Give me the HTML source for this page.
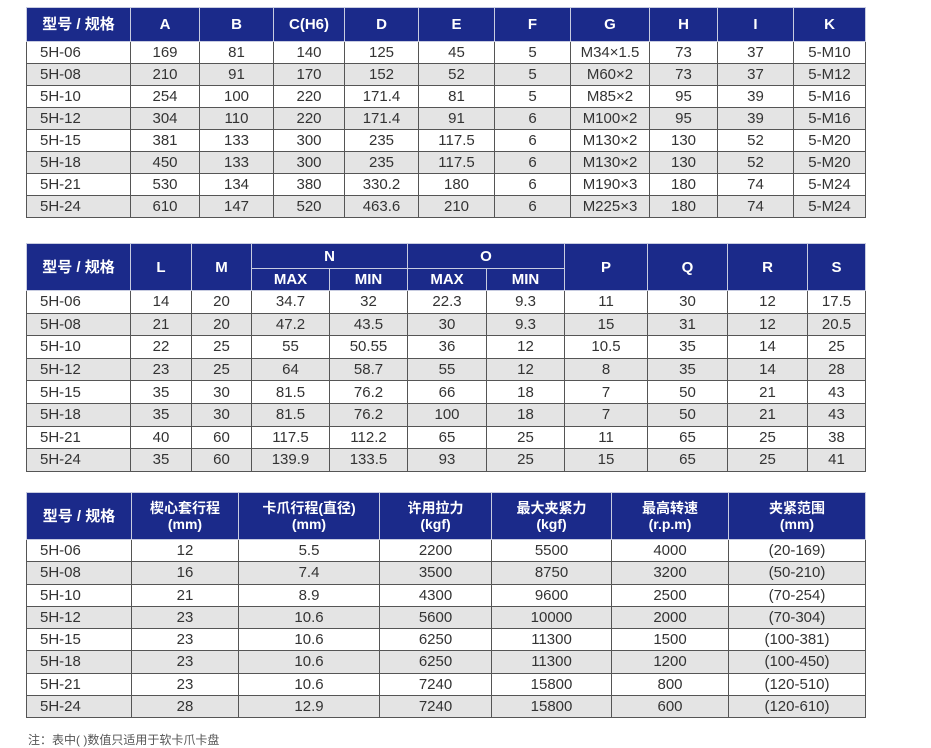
<!DOCTYPE html>
<html><head><meta charset="utf-8"><style>
body{margin:0;background:#fff;width:931px;height:747px;position:relative;overflow:hidden;font-family:"Liberation Sans","Noto Sans CJK SC",sans-serif;}
table{position:absolute;left:26px;border-collapse:collapse;table-layout:fixed;font-size:15px;color:#333;}
td,th{padding:0;text-align:center;white-space:nowrap;overflow:hidden;line-height:1;}
th{background:#1b2a8a;color:#fff;font-weight:600;font-size:15px;border:1px solid #c8cce0;}
td{border:1px solid #555;}
tr.g td{background:#e4e4e4;}
td.f{text-align:left;padding-left:13px;}
th.two{line-height:1.15;font-size:14px;}
.note{position:absolute;left:28px;top:731px;font-size:12px;color:#555;}
</style></head><body>

<table style="top:7px;width:839px">
<colgroup><col style="width:104px"><col style="width:69px"><col style="width:74px"><col style="width:71px"><col style="width:74px"><col style="width:76px"><col style="width:76px"><col style="width:79px"><col style="width:68px"><col style="width:76px"><col style="width:72px"></colgroup>
<tr style="height:34px"><th>型号 / 规格</th><th>A</th><th>B</th><th>C(H6)</th><th>D</th><th>E</th><th>F</th><th>G</th><th>H</th><th>I</th><th>K</th></tr>
<tr style="height:22px"><td class="f">5H-06</td><td>169</td><td>81</td><td>140</td><td>125</td><td>45</td><td>5</td><td>M34×1.5</td><td>73</td><td>37</td><td>5-M10</td></tr>
<tr class="g" style="height:22px"><td class="f">5H-08</td><td>210</td><td>91</td><td>170</td><td>152</td><td>52</td><td>5</td><td>M60×2</td><td>73</td><td>37</td><td>5-M12</td></tr>
<tr style="height:22px"><td class="f">5H-10</td><td>254</td><td>100</td><td>220</td><td>171.4</td><td>81</td><td>5</td><td>M85×2</td><td>95</td><td>39</td><td>5-M16</td></tr>
<tr class="g" style="height:22px"><td class="f">5H-12</td><td>304</td><td>110</td><td>220</td><td>171.4</td><td>91</td><td>6</td><td>M100×2</td><td>95</td><td>39</td><td>5-M16</td></tr>
<tr style="height:22px"><td class="f">5H-15</td><td>381</td><td>133</td><td>300</td><td>235</td><td>117.5</td><td>6</td><td>M130×2</td><td>130</td><td>52</td><td>5-M20</td></tr>
<tr class="g" style="height:22px"><td class="f">5H-18</td><td>450</td><td>133</td><td>300</td><td>235</td><td>117.5</td><td>6</td><td>M130×2</td><td>130</td><td>52</td><td>5-M20</td></tr>
<tr style="height:22px"><td class="f">5H-21</td><td>530</td><td>134</td><td>380</td><td>330.2</td><td>180</td><td>6</td><td>M190×3</td><td>180</td><td>74</td><td>5-M24</td></tr>
<tr class="g" style="height:22px"><td class="f">5H-24</td><td>610</td><td>147</td><td>520</td><td>463.6</td><td>210</td><td>6</td><td>M225×3</td><td>180</td><td>74</td><td>5-M24</td></tr>
</table>

<table style="top:243px;width:839px">
<colgroup><col style="width:104px"><col style="width:61px"><col style="width:60px"><col style="width:78px"><col style="width:78px"><col style="width:79px"><col style="width:78px"><col style="width:83px"><col style="width:80px"><col style="width:80px"><col style="width:58px"></colgroup>
<tr style="height:25px"><th rowspan="2">型号 / 规格</th><th rowspan="2">L</th><th rowspan="2">M</th><th colspan="2">N</th><th colspan="2">O</th><th rowspan="2">P</th><th rowspan="2">Q</th><th rowspan="2">R</th><th rowspan="2">S</th></tr>
<tr style="height:22px"><th>MAX</th><th>MIN</th><th>MAX</th><th>MIN</th></tr>
<tr style="height:22.6px"><td class="f">5H-06</td><td>14</td><td>20</td><td>34.7</td><td>32</td><td>22.3</td><td>9.3</td><td>11</td><td>30</td><td>12</td><td>17.5</td></tr>
<tr class="g" style="height:22.6px"><td class="f">5H-08</td><td>21</td><td>20</td><td>47.2</td><td>43.5</td><td>30</td><td>9.3</td><td>15</td><td>31</td><td>12</td><td>20.5</td></tr>
<tr style="height:22.6px"><td class="f">5H-10</td><td>22</td><td>25</td><td>55</td><td>50.55</td><td>36</td><td>12</td><td>10.5</td><td>35</td><td>14</td><td>25</td></tr>
<tr class="g" style="height:22.6px"><td class="f">5H-12</td><td>23</td><td>25</td><td>64</td><td>58.7</td><td>55</td><td>12</td><td>8</td><td>35</td><td>14</td><td>28</td></tr>
<tr style="height:22.6px"><td class="f">5H-15</td><td>35</td><td>30</td><td>81.5</td><td>76.2</td><td>66</td><td>18</td><td>7</td><td>50</td><td>21</td><td>43</td></tr>
<tr class="g" style="height:22.6px"><td class="f">5H-18</td><td>35</td><td>30</td><td>81.5</td><td>76.2</td><td>100</td><td>18</td><td>7</td><td>50</td><td>21</td><td>43</td></tr>
<tr style="height:22.6px"><td class="f">5H-21</td><td>40</td><td>60</td><td>117.5</td><td>112.2</td><td>65</td><td>25</td><td>11</td><td>65</td><td>25</td><td>38</td></tr>
<tr class="g" style="height:22.6px"><td class="f">5H-24</td><td>35</td><td>60</td><td>139.9</td><td>133.5</td><td>93</td><td>25</td><td>15</td><td>65</td><td>25</td><td>41</td></tr>
</table>

<table style="top:492px;width:839px">
<colgroup><col style="width:105px"><col style="width:107px"><col style="width:141px"><col style="width:112px"><col style="width:120px"><col style="width:117px"><col style="width:137px"></colgroup>
<tr style="height:47px"><th>型号 / 规格</th><th class="two">楔心套行程<br>(mm)</th><th class="two">卡爪行程(直径)<br>(mm)</th><th class="two">许用拉力<br>(kgf)</th><th class="two">最大夹紧力<br>(kgf)</th><th class="two">最高转速<br>(r.p.m)</th><th class="two">夹紧范围<br>(mm)</th></tr>
<tr style="height:22.25px"><td class="f">5H-06</td><td>12</td><td>5.5</td><td>2200</td><td>5500</td><td>4000</td><td>(20-169)</td></tr>
<tr class="g" style="height:22.25px"><td class="f">5H-08</td><td>16</td><td>7.4</td><td>3500</td><td>8750</td><td>3200</td><td>(50-210)</td></tr>
<tr style="height:22.25px"><td class="f">5H-10</td><td>21</td><td>8.9</td><td>4300</td><td>9600</td><td>2500</td><td>(70-254)</td></tr>
<tr class="g" style="height:22.25px"><td class="f">5H-12</td><td>23</td><td>10.6</td><td>5600</td><td>10000</td><td>2000</td><td>(70-304)</td></tr>
<tr style="height:22.25px"><td class="f">5H-15</td><td>23</td><td>10.6</td><td>6250</td><td>11300</td><td>1500</td><td>(100-381)</td></tr>
<tr class="g" style="height:22.25px"><td class="f">5H-18</td><td>23</td><td>10.6</td><td>6250</td><td>11300</td><td>1200</td><td>(100-450)</td></tr>
<tr style="height:22.25px"><td class="f">5H-21</td><td>23</td><td>10.6</td><td>7240</td><td>15800</td><td>800</td><td>(120-510)</td></tr>
<tr class="g" style="height:22.25px"><td class="f">5H-24</td><td>28</td><td>12.9</td><td>7240</td><td>15800</td><td>600</td><td>(120-610)</td></tr>
</table>

<div class="note">注：表中( )数值只适用于软卡爪卡盘</div>
</body></html>
